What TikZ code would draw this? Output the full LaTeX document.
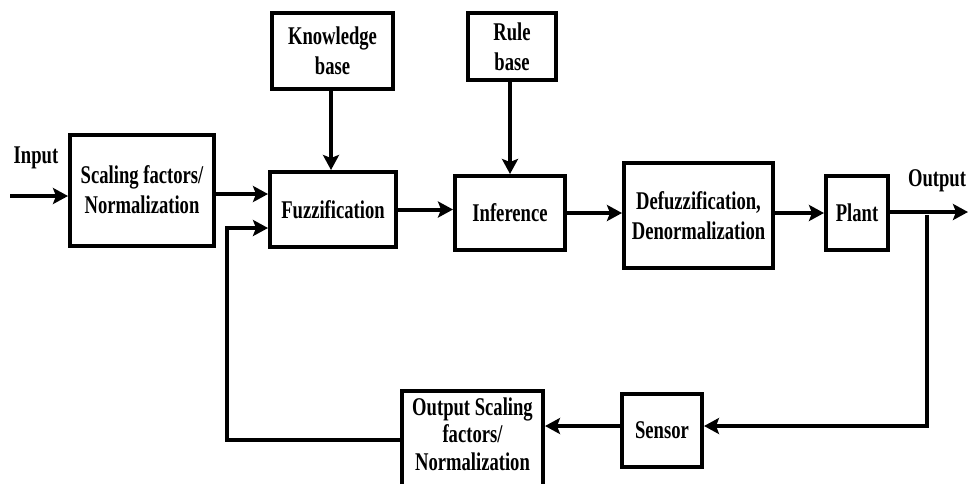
\documentclass[tikz,border=0pt]{standalone}
\usepackage{fontspec}
\setmainfont{Liberation Serif}[FakeStretch=0.73]
\usetikzlibrary{arrows.meta}

\tikzset{
  box/.style={draw, line width=4pt, inner sep=0pt, align=center},
  lbl/.style={inner sep=0pt, align=center},
  conn/.style={line width=4pt},
  flow/.style={conn, -{Stealth[length=15pt, width=16pt, inset=3pt]}},
}

\begin{document}
\begin{tikzpicture}[x=1pt, y=-1pt, font=\fontsize{25.5}{30}\selectfont\bfseries]
  \useasboundingbox (0,0) rectangle (968,483);

  % blocks of the forward path
  \node[box, minimum width=144, minimum height=111] (scale) at (142,190) {Scaling factors/\\Normalization};
  \node[box, minimum width=121, minimum height=76] (know) at (332.5,51) {Knowledge\\base};
  \node[box, minimum width=126, minimum height=75] (fuzz) at (333,209.5) {Fuzzification};
  \node[box, minimum width=88, minimum height=67] (rule) at (512,46.5) {Rule\\base};
  \node[box, minimum width=110, minimum height=74] (inf) at (510,213) {Inference};
  \node[box, minimum width=149, minimum height=105] (defuzz) at (698.5,215.5) {Defuzzification,\\Denormalization};
  \node[box, minimum width=62, minimum height=74] (plant) at (857,213) {Plant};

  % blocks of the feedback path
  \node[box, minimum width=80, minimum height=73] (sensor) at (662,430.5) {Sensor};
  \node[box, minimum width=141, minimum height=100] (osc) at (472.5,441) {};
  \node[lbl, font=\fontsize{25.5}{27.5}\selectfont\bfseries] (osctext) at (472.5,434) {Output Scaling\\factors/\\Normalization};

  % signal labels
  \node[lbl] (inlbl) at (36,158) {Input};
  \node[lbl] (outlbl) at (937,181) {Output};

  % connector end points
  \coordinate (src) at (10,196);
  \coordinate (dst) at (968,212);
  \coordinate (tap) at (927,215);
  \coordinate (fbl) at (227,228);

  % forward path
  \draw[flow] (src) -- (src -| scale.west);
  \draw[flow] ([yshift=-4pt]scale.east) -- ([yshift=-4pt]scale.east -| fuzz.west);
  \draw[flow] (know.south -| 331,0) -- (fuzz.north -| 331,0);
  \draw[flow] (rule.south -| 510,0) -- (inf.north -| 510,0);
  \draw[flow] (fuzz.east) -- (fuzz.east -| inf.west);
  \draw[flow] (inf.east) -- (inf.east -| defuzz.west);
  \draw[flow] (defuzz.east |- plant.east) -- (plant.west);
  \draw[flow] (plant.east |- dst) -- (dst);

  % feedback path
  \draw[flow] (tap) |- ([yshift=4.5pt]sensor.east);
  \draw[flow] ([yshift=4.5pt]sensor.west) -- ([yshift=4.5pt]sensor.west -| osc.east);
  \draw[flow] (osc.west |- 0,440) -| (fbl) -- (fbl -| fuzz.west);
\end{tikzpicture}
\end{document}
